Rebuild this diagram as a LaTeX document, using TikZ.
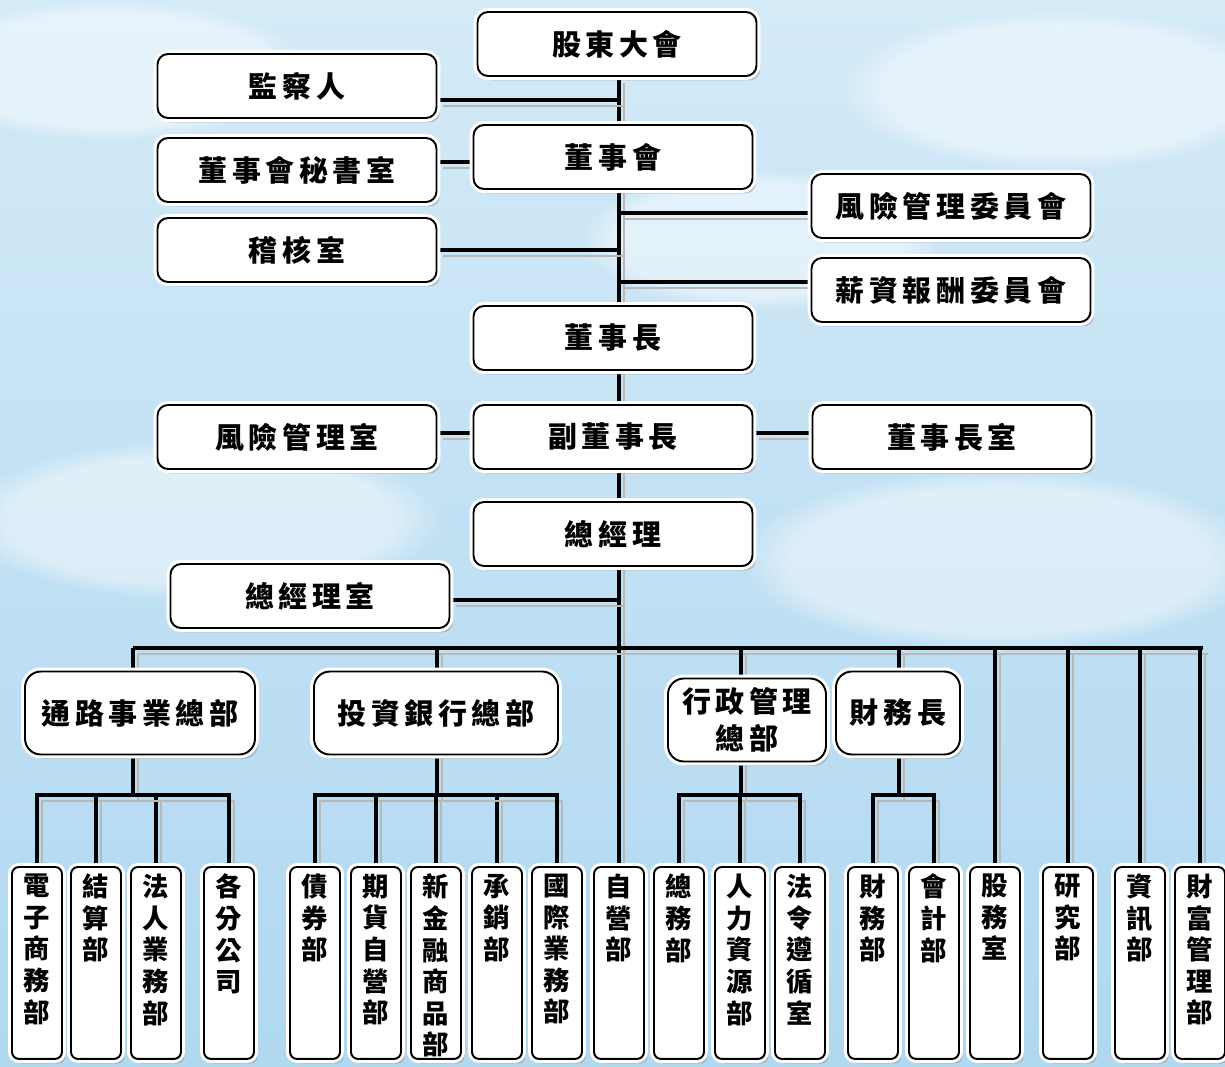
\documentclass[tikz,border=0pt]{standalone}
\usepackage{fontspec}
\usepackage{tikz}
\usetikzlibrary{calc, shadows, fadings, positioning}
\newfontfamily\cjk[LetterSpace=16]{Noto Sans CJK TC}
\newfontfamily\cjkcol{Noto Sans CJK TC}
\definecolor{skytop}{RGB}{212,234,247}
\definecolor{skybot}{RGB}{176,216,240}
\pgfdeclarelayer{sky}
\pgfdeclarelayer{wires}
\pgfsetlayers{sky,wires,main}
\tikzset{
    box/.style={draw, line width=1.1pt, fill=white, rounded corners=6pt,
        minimum width=5.58cm, minimum height=1.28cm, align=center,
        font=\cjk\bfseries\fontsize{16.5}{21}\selectfont,
        drop shadow={shadow xshift=2pt, shadow yshift=-2.5pt, fill=black!45},
        preaction={draw=white, line width=4.5pt}},
    unit/.style={box, rounded corners=9pt, minimum height=1.66cm},
    leaf/.style={draw, line width=1.1pt, fill=white, rounded corners=4pt,
        anchor=north, minimum width=1cm, minimum height=3.84cm, inner sep=0.12cm,
        font=\cjkcol\bfseries\fontsize{15}{18}\selectfont,
        drop shadow={shadow xshift=2pt, shadow yshift=-2.5pt, fill=black!45},
        preaction={draw=white, line width=4.5pt}},
    link/.style={line width=2pt,
        preaction={draw=black!28, line width=1.2pt, transform canvas={shift={(3pt,-3.5pt)}}}},
    cloud/.style={white, opacity=0.45, path fading=circle with fuzzy edge 20 percent}
}
\newcommand{\drawB}[4][5.58cm]{
    \node[box, minimum width=#1] (#2) at (#3) {#4};
}
\newcommand{\drawU}[4][4.6cm]{
    \node[unit, minimum width=#1] (#2) at (#3) {#4};
}
\newcommand{\drawLeaf}[3]{
    \node[leaf] (#1) at (#2,866) {\parbox[t][3.56cm][t]{0.7cm}{\centering #3}};
}

\begin{document}
\begin{tikzpicture}[x=0.02cm, y=-0.02cm]
    \useasboundingbox (0,0) rectangle (1225,1066);
    \begin{pgfonlayer}{sky}
        \fill[top color=skytop, bottom color=skybot] (0,0) rectangle (1225,1066);
        \fill[cloud] (110,70) ellipse (200 and 70);
        \fill[cloud] (1060,90) ellipse (220 and 80);
        \fill[cloud] (1000,560) ellipse (260 and 90);
        \fill[cloud] (200,520) ellipse (240 and 80);
        \fill[cloud] (760,240) ellipse (180 and 70);
    \end{pgfonlayer}

    % Top of the chart
        \drawB{gd}{617,44}{股東大會}
        \drawB{jc}{297,86}{監察人}
        \drawB{ds}{613,157}{董事會}
        \drawB{ms}{297,170}{董事會秘書室}
        \drawB{jh}{297,250}{稽核室}
        \drawB{fw}{951,206}{風險管理委員會}
        \drawB{xw}{951,290}{薪資報酬委員會}
        \drawB{dz}{613,338}{董事長}
        \drawB{fs}{297,437}{風險管理室}
        \drawB{fd}{613,437}{副董事長}
        \drawB{dzs}{952,437}{董事長室}
        \drawB{zj}{613,534}{總經理}
        \drawB{zjs}{310,596}{總經理室}

    % Divisions
        \drawU{tl}{140,713}{通路事業總部}
        \drawU[4.88cm]{tz}{436,713}{投資銀行總部}
        \drawU[3.16cm]{xz}{747,720}{行政管理\\總部}
        \drawU[2.48cm]{cw}{898,713}{財務長}

    % Departments
        \drawLeaf{dzsw}{37}{電\\子\\商\\務\\部}
        \drawLeaf{js}{96}{結\\算\\部}
        \drawLeaf{fryw}{156}{法\\人\\業\\務\\部}
        \drawLeaf{gfgs}{229}{各\\分\\公\\司}
        \drawLeaf{zq}{315}{債\\券\\部}
        \drawLeaf{qhzy}{376}{期\\貨\\自\\營\\部}
        \drawLeaf{xjr}{436}{新\\金\\融\\商\\品\\部}
        \drawLeaf{cx}{497}{承\\銷\\部}
        \drawLeaf{gjyw}{557}{國\\際\\業\\務\\部}
        \drawLeaf{zy}{619}{自\\營\\部}
        \drawLeaf{zw}{679}{總\\務\\部}
        \drawLeaf{rlzy}{740}{人\\力\\資\\源\\部}
        \drawLeaf{flzx}{800}{法\\令\\遵\\循\\室}
        \drawLeaf{cwb}{873}{財\\務\\部}
        \drawLeaf{kj}{934}{會\\計\\部}
        \drawLeaf{gw}{995}{股\\務\\室}
        \drawLeaf{yj}{1068}{研\\究\\部}
        \drawLeaf{zx}{1140}{資\\訊\\部}
        \drawLeaf{cfgl}{1200}{財\\富\\管\\理\\部}

    % Lines
    \begin{pgfonlayer}{wires}
        \coordinate (spine) at (619,0);
        \coordinate (busL) at (133,648);
        \coordinate (busR) at (1203,648);
        \coordinate (tlHub) at (133,795);
        \coordinate (tzHub) at (437,795);
        \coordinate (xzHub) at (741,795);
        \coordinate (cwHub) at (899,795);
        \coordinate (jcR) at ([yshift=-0.28cm]jc.east);
        \coordinate (msR) at ([yshift=0.16cm]ms.east);
        \coordinate (fwL) at ([yshift=-0.14cm]fw.west);
        \coordinate (xwL) at ([yshift=0.16cm]xw.west);
        \coordinate (fdL) at ([yshift=0.08cm]fd.west);
        \coordinate (fdR) at ([yshift=0.08cm]fd.east);
        \coordinate (zjsR) at ([yshift=-0.08cm]zjs.east);

        \draw[link] (gd.south -| spine) -- (zy.north);
        \draw[link] (jcR) -- (jcR -| spine);
        \draw[link] (msR) -- (msR -| ds.west);
        \draw[link] (jh.east) -- (jh.east -| spine);
        \draw[link] (fwL) -- (fwL -| spine);
        \draw[link] (xwL) -- (xwL -| spine);
        \draw[link] (fdL) -- (fdL -| fs.east);
        \draw[link] (fdR) -- (fdR -| dzs.west);
        \draw[link] (zjsR) -- (zjsR -| spine);

        \draw[link] (busL) -- (busR);
        \draw[link] (tlHub |- busL) -- (tlHub);
        \draw[link] (tzHub |- busL) -- (tzHub);
        \draw[link] (xzHub |- busL) -- (xzHub);
        \draw[link] (cwHub |- busL) -- (cwHub);
        \foreach \n in {gw, yj, zx}
            \draw[link] (\n.north) -- (\n.north |- busL);
        \draw[link] (cfgl.north) |- (busR);

        \foreach \n in {dzsw, js, fryw, gfgs}
            \draw[link] (\n.north) |- (tlHub);
        \foreach \n in {zq, qhzy, xjr, cx, gjyw}
            \draw[link] (\n.north) |- (tzHub);
        \foreach \n in {zw, rlzy, flzx}
            \draw[link] (\n.north) |- (xzHub);
        \foreach \n in {cwb, kj}
            \draw[link] (\n.north) |- (cwHub);
    \end{pgfonlayer}
\end{tikzpicture}
\end{document}
